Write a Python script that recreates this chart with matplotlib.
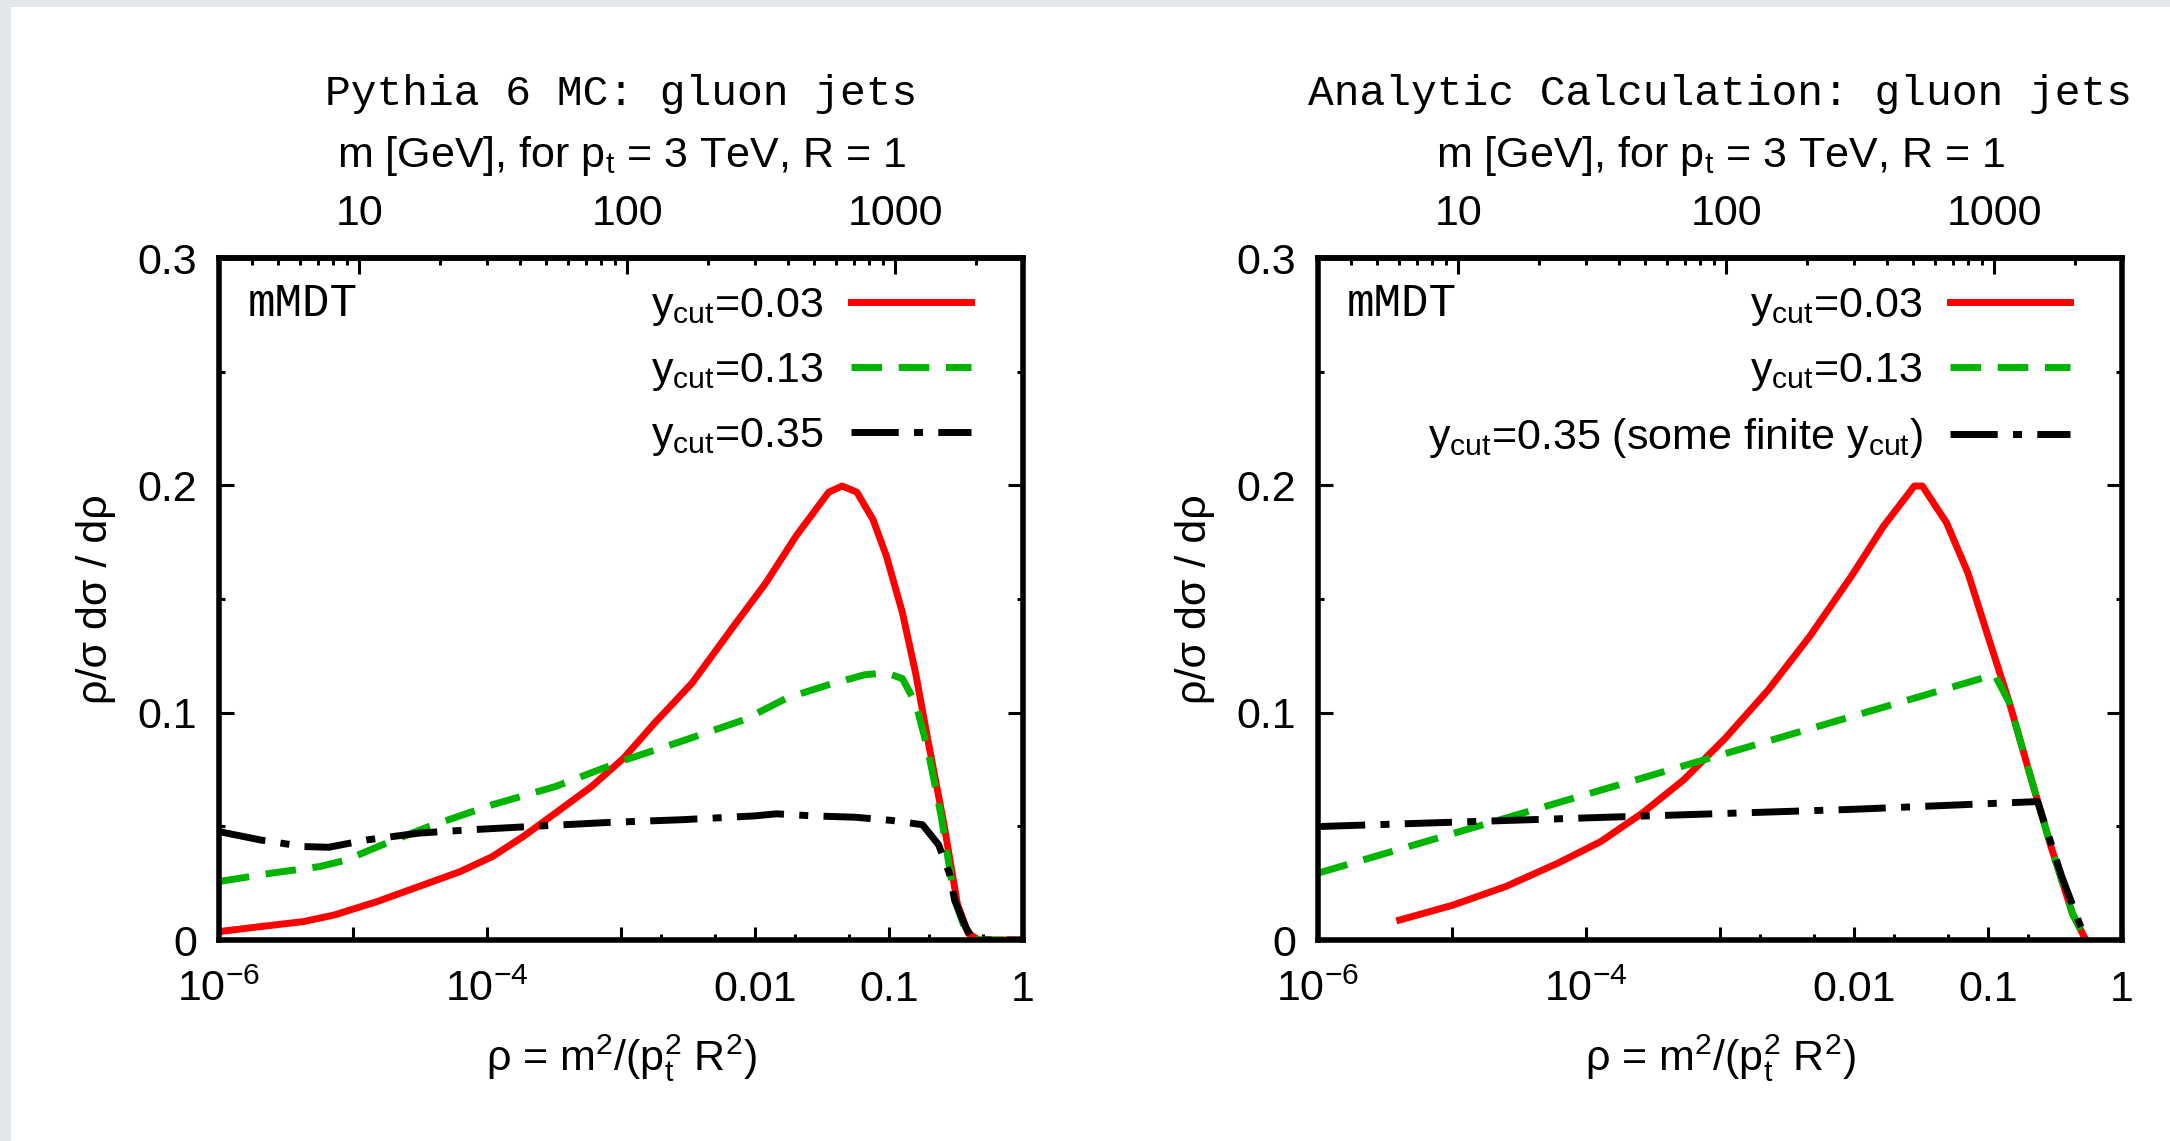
import numpy as np
import matplotlib
matplotlib.use("Agg")
import matplotlib.pyplot as plt
from matplotlib.patches import Rectangle
from matplotlib.ticker import FixedLocator, FixedFormatter, NullFormatter, LogLocator

plt.rcParams['font.family'] = ['Liberation Sans', 'DejaVu Sans']
plt.rcParams['mathtext.fontset'] = 'custom'
plt.rcParams['mathtext.rm'] = 'Liberation Sans'
plt.rcParams['mathtext.it'] = 'Liberation Sans:italic'
plt.rcParams['axes.unicode_minus'] = False
plt.rcParams['lines.scale_dashes'] = False

# ---- values: log10(rho) and rho/sigma dsigma/drho ----
# Pythia 6 MC
mc_x_003 = [-6.0, -5.69, -5.37, -5.14, -4.82, -4.51, -4.2, -3.96, -3.73, -3.49, -3.22,
            -2.98, -2.75, -2.47, -2.16, -1.92, -1.69, -1.45, -1.35, -1.24, -1.12, -1.02,
            -0.90, -0.80, -0.71, -0.59, -0.49, -0.41, -0.33, 0.0]
mc_y_003 = [0.0037, 0.0059, 0.0081, 0.011, 0.0169, 0.0235, 0.0301, 0.0367, 0.0455, 0.0558,
            0.0675, 0.080, 0.0954, 0.113, 0.138, 0.157, 0.178, 0.197, 0.1997, 0.197, 0.185,
            0.169, 0.144, 0.117, 0.088, 0.051, 0.016, 0.003, 0.0, 0.0]

mc_x_013 = [-6.0, -5.61, -5.25, -5.06, -4.78, -4.43, -3.96, -3.49, -2.98, -2.55, -2.08,
            -1.76, -1.45, -1.18, -1.02, -0.90, -0.80, -0.71, -0.61, -0.51, -0.43, -0.35, 0.0]
mc_y_013 = [0.0257, 0.0294, 0.0323, 0.035, 0.0419, 0.050, 0.0595, 0.0675, 0.079, 0.0874,
            0.0969, 0.1065, 0.1123, 0.1167, 0.1175, 0.115, 0.104, 0.0837, 0.0543, 0.0176,
            0.0044, 0.0, 0.0]

mc_x_035 = [-6.0, -5.69, -5.37, -5.18, -4.9, -4.51, -4.12, -3.65, -3.1, -2.55, -2.0, -1.84,
            -1.57, -1.25, -0.98, -0.75, -0.63, -0.55, -0.51, -0.43, -0.37, 0.0]
mc_y_035 = [0.0477, 0.044, 0.0411, 0.0408, 0.044, 0.047, 0.0485, 0.050, 0.0517, 0.0529,
            0.0546, 0.0555, 0.0546, 0.054, 0.0526, 0.0507, 0.0419, 0.0294, 0.0176, 0.0059,
            0.0, 0.0]

# Analytic calculation
an_x_003 = [-5.39, -4.99, -4.60, -4.21, -3.89, -3.58, -3.27, -2.96, -2.64, -2.33, -2.02,
            -1.78, -1.55, -1.49, -1.31, -1.15, -1.0, -0.84, -0.69, -0.53, -0.37, -0.27]
an_y_003 = [0.0088, 0.0154, 0.0235, 0.0338, 0.0433, 0.0558, 0.0705, 0.0888, 0.110, 0.1336,
            0.160, 0.182, 0.1997, 0.1997, 0.1836, 0.1615, 0.1336, 0.1043, 0.0734, 0.0411,
            0.0117, 0.0]

an_x_013 = [-6.0, -5.0, -4.0, -3.0, -2.0, -1.0, -0.95, -0.84, -0.69, -0.53, -0.37, -0.27]
an_y_013 = [0.0294, 0.0467, 0.064, 0.0813, 0.0986, 0.1159, 0.1167, 0.1043, 0.0734, 0.0411,
            0.0117, 0.0]

an_x_035 = [-6.0, -4.0, -2.0, -0.63, -0.45, -0.27]
an_y_035 = [0.0499, 0.0537, 0.0575, 0.0609, 0.028, 0.0]

labels_mc = [r'$\mathregular{y_{cut}}$=0.03', r'$\mathregular{y_{cut}}$=0.13',
             r'$\mathregular{y_{cut}}$=0.35']
labels_an = [r'$\mathregular{y_{cut}}$=0.03', r'$\mathregular{y_{cut}}$=0.13',
             r'$\mathregular{y_{cut}}$=0.35 (some finite $\mathregular{y_{cut}}$)']
titles = ['Pythia 6 MC: gluon jets', 'Analytic Calculation: gluon jets']

x_ticks = [1e-6, 1e-5, 1e-4, 1e-3, 1e-2, 1e-1, 1.0]
x_ticklabels = [r'10$\mathregular{^{-6}}$', '', r'10$\mathregular{^{-4}}$', '', '0.01', '0.1', '1']
x_minor = [2e-3, 5e-3, 2e-2, 5e-2, 0.2, 0.5]
m_ticks = [10, 100, 1000]
PT, R = 3000.0, 1.0

FS = 31
MONO = 31
LW = 5
RED, GREEN, BLACK = '#ff0000', '#00b400', '#000000'
DASH = (22, 12)
DASHDOT = (34, 11, 6.5, 11)


def rho_to_m(rho):
    return np.sqrt(np.clip(rho, 1e-300, None)) * PT * R


def m_to_rho(m):
    return (np.asarray(m) / (PT * R)) ** 2


fig = plt.figure(figsize=(21.7, 11.41), dpi=100)
fig.patch.set_facecolor('#e3e6ea')
fig.add_artist(Rectangle((11 / 2170, 0), 1, 1 - 7 / 1141, transform=fig.transFigure,
                         facecolor='white', edgecolor='none', zorder=-5))

W, H = 2170.0, 1141.0
ax_l = fig.add_axes([219 / W, 1 - 940 / H, 804 / W, 682 / H])
ax_r = fig.add_axes([1318 / W, 1 - 940 / H, 804 / W, 682 / H])

panels = [
    (ax_l, titles[0], labels_mc, (mc_x_003, mc_y_003), (mc_x_013, mc_y_013), (mc_x_035, mc_y_035)),
    (ax_r, titles[1], labels_an, (an_x_003, an_y_003), (an_x_013, an_y_013), (an_x_035, an_y_035)),
]

for ax, title, labels, c1, c2, c3 in panels:
    ax.plot(10.0 ** np.array(c1[0]), c1[1], color=RED, lw=LW, label=labels[0])
    ax.plot(10.0 ** np.array(c2[0]), c2[1], color=GREEN, lw=LW, dashes=DASH, label=labels[1])
    ax.plot(10.0 ** np.array(c3[0]), c3[1], color=BLACK, lw=LW, dashes=DASHDOT, label=labels[2])

    ax.set_xscale('log')
    ax.set_xlim(1e-6, 1)
    ax.set_ylim(0, 0.3)
    for s in ax.spines.values():
        s.set_linewidth(4)

    ax.xaxis.set_major_locator(FixedLocator(x_ticks))
    ax.xaxis.set_major_formatter(FixedFormatter(x_ticklabels))
    ax.xaxis.set_minor_locator(FixedLocator(x_minor))
    ax.xaxis.set_minor_formatter(NullFormatter())
    ax.set_yticks([0, 0.1, 0.2, 0.3], ['0', '0.1', '0.2', '0.3'])
    ax.set_yticks([0.05, 0.15, 0.25], minor=True)

    ax.tick_params(axis='x', which='both', direction='in', top=False, width=2.2,
                   labelsize=FS, pad=44)
    ax.tick_params(axis='x', which='major', length=9.5)
    ax.tick_params(axis='x', which='minor', length=4)
    ax.tick_params(axis='y', which='both', direction='in', right=True, width=2.2,
                   labelsize=FS, pad=16)
    ax.tick_params(axis='y', which='major', length=11)
    ax.tick_params(axis='y', which='minor', length=4.5)
    for t in ax.xaxis.get_major_ticks():
        t.label1.set_va('baseline')

    sec = ax.secondary_xaxis('top', functions=(rho_to_m, m_to_rho))
    sec.xaxis.set_major_locator(FixedLocator(m_ticks))
    sec.xaxis.set_major_formatter(FixedFormatter([str(m) for m in m_ticks]))
    sec.xaxis.set_minor_locator(LogLocator(base=10, subs=np.arange(2, 10), numticks=50))
    sec.xaxis.set_minor_formatter(NullFormatter())
    sec.tick_params(which='both', direction='in', width=2.2, labelsize=FS, pad=17)
    sec.tick_params(which='major', length=11.5)
    sec.tick_params(which='minor', length=5)
    sec.spines['top'].set_linewidth(4)

    ax.text(0.5, 1.15, r'm [GeV], for p$\mathregular{_t}$ = 3 TeV, R = 1',
            transform=ax.transAxes, ha='center', va='center', fontsize=FS)
    ax.text(0.5, 1.24, title, transform=ax.transAxes, ha='center', va='center',
            fontsize=MONO, family='Liberation Mono')
    ax.text(0.036, 0.932, 'mMDT', transform=ax.transAxes, ha='left', va='center',
            fontsize=MONO + 2, family='Liberation Mono')

    ax.set_xlabel(r'ρ = m$\mathregular{^2}$/(p$\mathregular{_t^2}$ R$\mathregular{^2}$)',
                  fontsize=FS)
    ax.xaxis.set_label_coords(0.5, -0.135)
    ax.set_ylabel('ρ/σ dσ / dρ', fontsize=FS)
    ax.yaxis.set_label_coords(-0.128, 0.5)

    ax.legend(loc='upper right', bbox_to_anchor=(0.935, 0.959), markerfirst=False,
              frameon=False, fontsize=FS, handlelength=2.77, handletextpad=0.65,
              labelspacing=0.53, borderpad=0, borderaxespad=0)

fig.savefig('out.png', dpi=100, facecolor=fig.get_facecolor())
